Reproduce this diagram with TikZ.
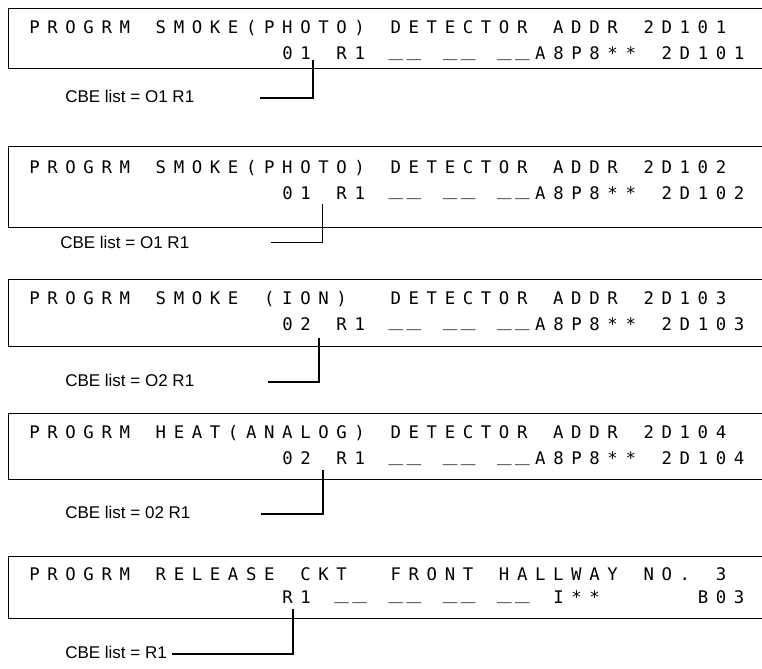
\documentclass[tikz,border=0pt]{standalone}
\usepackage{fontspec}
\usepackage{graphicx}
\setmainfont{Liberation Sans}
\newfontfamily\lcdfont{DejaVu Sans Mono}
\ExplSyntaxOn
\dim_new:N \l_lcdcell_dim
\dim_set:Nn \l_lcdcell_dim {13.55pt}
\cs_new_protected:Npn \lcdcell_char:n #1
  {
    \str_if_eq:nnTF {#1} {|}
      { \makebox[\l_lcdcell_dim][c]{} }
      {
        \str_if_eq:nnTF {#1} {_}
          { \makebox[\l_lcdcell_dim][c]{\raisebox{0.2em}{\scalebox{1.4}[1]{#1}}} }
          { \makebox[\l_lcdcell_dim][c]{#1} }
      }
  }
\NewDocumentCommand \lcdline { m } { \str_map_function:nN {#1} \lcdcell_char:n }
\ExplSyntaxOff
\begin{document}
\begin{tikzpicture}[x=0.75pt,y=-0.75pt,
  lcdbox/.style={draw=black,line width=1pt,anchor=north west,inner sep=0pt,minimum width=772.5*0.75pt},
  lcd/.style={anchor=base west,inner sep=0pt,font=\lcdfont\fontsize{13}{13}\selectfont},
  cbe/.style={anchor=base west,inner sep=0pt,font=\fontsize{12.75}{14}\selectfont},
  conn/.style={draw=black,line width=1pt}]
\useasboundingbox (0,0) rectangle (762,668);
\clip (0,0) rectangle (762,668);

% box 1
\node[lcdbox,minimum height=60*0.75pt] (box1) at (7.5,8) {};
\node[lcd] (t1a) at (25.2,33.5) {\lcdline{PROGRM|SMOKE(PHOTO)|DETECTOR|ADDR|2D101}};
\node[lcd] (t1b) at (278.2,59.5) {\lcdline{01|R1|__|__|__A8P8**|2D101}};
\node[cbe] (cbe1) at (65,102) {CBE list = O1 R1};
\coordinate (c1a) at (313,60);
\coordinate (c1b) at (260,98);
\draw[conn] (c1a) |- (c1b);

% box 2
\node[lcdbox,minimum height=81*0.75pt] (box2) at (7.5,146) {};
\node[lcd] (t2a) at (25.2,173) {\lcdline{PROGRM|SMOKE(PHOTO)|DETECTOR|ADDR|2D102}};
\node[lcd] (t2b) at (278.2,199) {\lcdline{01|R1|__|__|__A8P8**|2D102}};
\node[cbe] (cbe2) at (60,248) {CBE list = O1 R1};
\coordinate (c2a) at (322.5,204);
\coordinate (c2b) at (271,242.5);
\draw[conn] (c2a) |- (c2b);

% box 3
\node[lcdbox,minimum height=67*0.75pt] (box3) at (7.5,279) {};
\node[lcd] (t3a) at (25.2,304) {\lcdline{PROGRM|SMOKE|(ION)||DETECTOR|ADDR|2D103}};
\node[lcd] (t3b) at (278.2,330) {\lcdline{02|R1|__|__|__A8P8**|2D103}};
\node[cbe] (cbe3) at (65,386) {CBE list = O2 R1};
\coordinate (c3a) at (319,338);
\coordinate (c3b) at (268,382);
\draw[conn] (c3a) |- (c3b);

% box 4
\node[lcdbox,minimum height=66*0.75pt] (box4) at (7.5,413) {};
\node[lcd] (t4a) at (25.2,438.5) {\lcdline{PROGRM|HEAT(ANALOG)|DETECTOR|ADDR|2D104}};
\node[lcd] (t4b) at (278.2,464.5) {\lcdline{02|R1|__|__|__A8P8**|2D104}};
\node[cbe] (cbe4) at (65,518) {CBE list = 02 R1};
\coordinate (c4a) at (323,470);
\coordinate (c4b) at (261,514);
\draw[conn] (c4a) |- (c4b);

% box 5
\node[lcdbox,minimum height=62*0.75pt] (box5) at (7.5,556) {};
\node[lcd] (t5a) at (25.2,580) {\lcdline{PROGRM|RELEASE|CKT||FRONT|HALLWAY|NO.|3}};
\node[lcd] (t5b) at (278.2,603) {\lcdline{R1|__|__|__|__|I**|||||B03}};
\node[cbe] (cbe5) at (65,658) {CBE list = R1};
\coordinate (c5a) at (293,609);
\coordinate (c5b) at (172,654);
\draw[conn] (c5a) |- (c5b);
\end{tikzpicture}
\end{document}
